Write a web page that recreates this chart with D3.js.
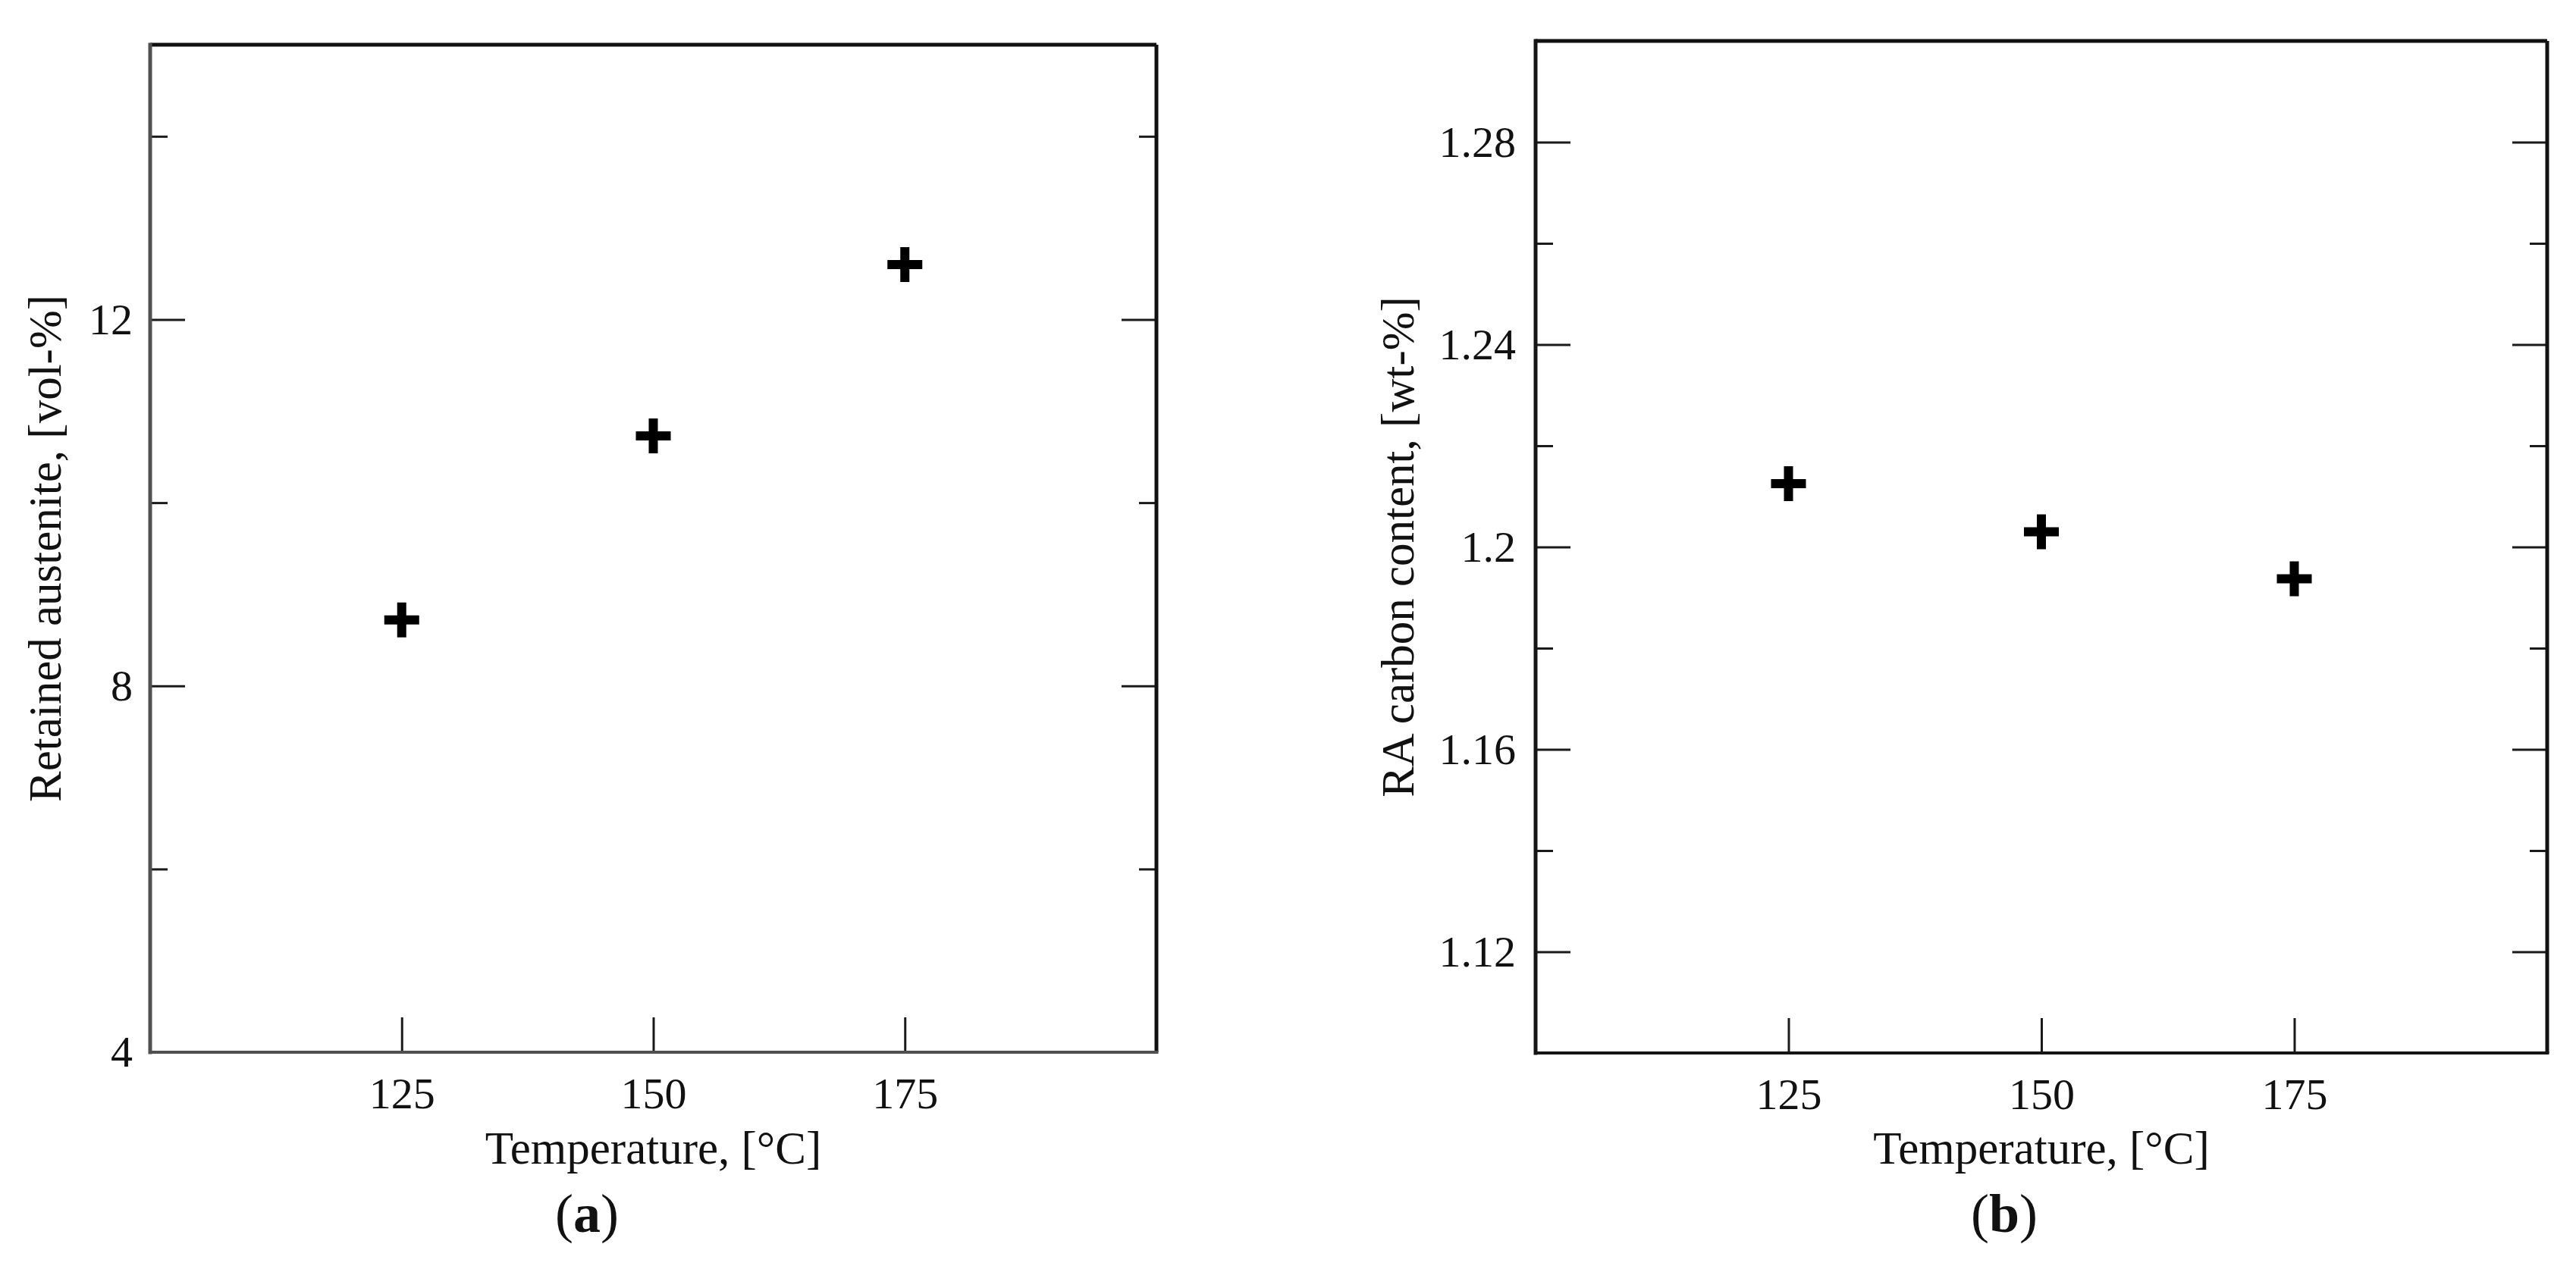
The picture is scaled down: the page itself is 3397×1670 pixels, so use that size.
<!DOCTYPE html>
<html>
<head>
<meta charset="utf-8">
<script src="https://cdn.jsdelivr.net/npm/d3@7"></script>
<style>
  html, body { margin: 0; padding: 0; background: #fff; }
  svg { display: block; }
  text { font-family: "Liberation Serif", "Times New Roman", serif; fill: #111; }
</style>
</head>
<body>
<svg id="chart" width="3397" height="1670"></svg>
<script>
// ---------- data ----------
const temperatures = [125, 150, 175];
const retainedAustenite = [8.72, 10.73, 12.60];   // vol-%
const raCarbonContent = [1.2125, 1.2030, 1.1937]; // wt-%

const xDomain = [100, 200];
const xTicks = [125, 150, 175];

const leftYDomain = [4, 15];
const leftMajorTicks = [4, 8, 12];
const leftMinorTicks = [6, 10, 14];

const rightYDomain = [1.10, 1.30];
const rightMajorTicks = [1.12, 1.16, 1.20, 1.24, 1.28];
const rightMajorLabels = ["1.12", "1.16", "1.2", "1.24", "1.28"];
const rightMinorTicks = [1.10, 1.14, 1.18, 1.22, 1.26, 1.30];

const xTitle = "Temperature, [°C]";
const leftYTitle = "Retained austenite, [vol-%]";
const rightYTitle = "RA carbon content, [wt-%]";

// ---------- layout ----------
const svg = d3.select("#chart");
const panels = [
  { x0: 198, x1: 1525, y0: 59, y1: 1388, yDomain: leftYDomain,
    major: leftMajorTicks, majorLabels: leftMajorTicks.map(String), minor: leftMinorTicks,
    values: retainedAustenite, yTitle: leftYTitle, yTitleX: 80, tag: "a", tagX: 774,
    leftColor: "#505050", bottomColor: "#505050", labelPad: 23 },
  { x0: 2025, x1: 3359, y0: 54, y1: 1389, yDomain: rightYDomain,
    major: rightMajorTicks, majorLabels: rightMajorLabels, minor: rightMinorTicks,
    values: raCarbonContent, yTitle: rightYTitle, yTitleX: 1864, tag: "b", tagX: 2643,
    leftColor: "#151515", bottomColor: "#151515", labelPad: 26 }
];

const MAJOR = 46, MINOR = 23;

panels.forEach(p => {
  const w = p.x1 - p.x0, h = p.y1 - p.y0;
  const x = d3.scaleLinear().domain(xDomain).range([0, w]);
  const y = d3.scaleLinear().domain(p.yDomain).range([h, 0]);
  const g = svg.append("g").attr("transform", `translate(${p.x0},${p.y0})`);

  const styleAxis = sel => {
    sel.select(".domain").remove();
    sel.selectAll(".tick line").attr("stroke", "#1a1a1a").attr("stroke-width", 3);
    sel.selectAll(".tick text").attr("font-size", 58).attr("fill", "#111")
      .attr("font-family", '"Liberation Serif", "Times New Roman", serif');
  };

  // left major ticks with labels
  g.append("g")
    .call(d3.axisLeft(y).tickValues(p.major)
      .tickFormat((d, i) => p.majorLabels[i])
      .tickSizeInner(-MAJOR).tickSizeOuter(0).tickPadding(p.labelPad))
    .call(styleAxis);
  // left minor
  g.append("g")
    .call(d3.axisLeft(y).tickValues(p.minor).tickFormat("")
      .tickSizeInner(-MINOR).tickSizeOuter(0))
    .call(styleAxis);
  // right major/minor (mirrored, inward)
  g.append("g").attr("transform", `translate(${w},0)`)
    .call(d3.axisRight(y).tickValues(p.major).tickFormat("")
      .tickSizeInner(-MAJOR).tickSizeOuter(0))
    .call(styleAxis);
  g.append("g").attr("transform", `translate(${w},0)`)
    .call(d3.axisRight(y).tickValues(p.minor).tickFormat("")
      .tickSizeInner(-MINOR).tickSizeOuter(0))
    .call(styleAxis);
  // bottom
  g.append("g").attr("transform", `translate(0,${h})`)
    .call(d3.axisBottom(x).tickValues(xTicks).tickFormat(d3.format("d"))
      .tickSizeInner(-MAJOR).tickSizeOuter(0).tickPadding(33))
    .call(styleAxis);

  // frame
  g.append("line").attr("x1", 0).attr("x2", w).attr("y1", 0).attr("y2", 0)
    .attr("stroke", "#111").attr("stroke-width", 5);
  g.append("line").attr("x1", w).attr("x2", w).attr("y1", 0).attr("y2", h)
    .attr("stroke", "#111").attr("stroke-width", 5);
  g.append("line").attr("x1", 0).attr("x2", 0).attr("y1", -2.5).attr("y2", h + 2.5)
    .attr("stroke", p.leftColor).attr("stroke-width", 5);
  g.append("line").attr("x1", 0).attr("x2", w + 2.5).attr("y1", h).attr("y2", h)
    .attr("stroke", p.bottomColor).attr("stroke-width", 4);

  // markers (plus signs)
  const pts = temperatures.map((t, i) => ({ t, v: p.values[i] }));
  g.selectAll("path.marker").data(pts).enter().append("path")
    .attr("class", "marker")
    .attr("transform", d => `translate(${x(d.t)},${y(d.v)})`)
    .attr("d", "M-23,0H23M0,-23V23")
    .attr("stroke", "#000").attr("stroke-width", 12).attr("fill", "none");

  // x title
  svg.append("text")
    .attr("x", p.x0 + w / 2).attr("y", 1535)
    .attr("text-anchor", "middle").attr("font-size", 61)
    .text(xTitle);

  // y title
  svg.append("text")
    .attr("transform", `translate(${p.yTitleX},${p.y0 + h / 2}) rotate(-90)`)
    .attr("text-anchor", "middle").attr("font-size", 61)
    .text(p.yTitle);

  // panel tag
  const tag = svg.append("text")
    .attr("x", p.tagX).attr("y", 1625)
    .attr("text-anchor", "middle").attr("font-size", 72);
  tag.append("tspan").text("(");
  tag.append("tspan").attr("font-weight", "bold").text(p.tag);
  tag.append("tspan").text(")");
});
</script>
</body>
</html>
